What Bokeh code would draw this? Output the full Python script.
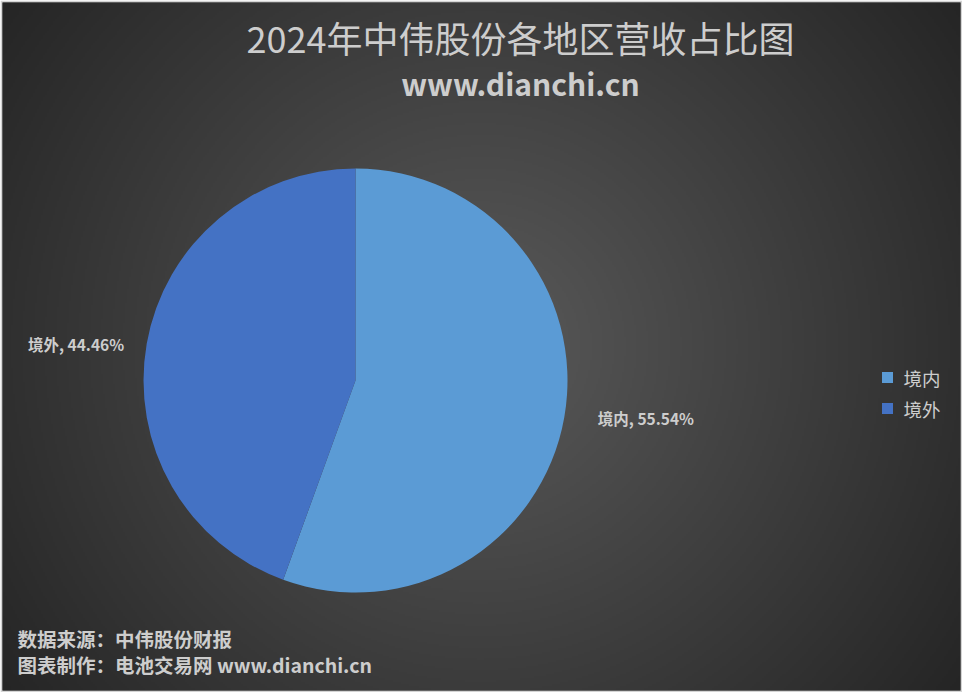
import numpy as np
from bokeh.plotting import figure
from bokeh.models import Range1d, ColumnDataSource, Label
from bokeh.embed import file_html
from bokeh.resources import INLINE
from bokeh.core.properties import value

# ---- data ----
regions = ["境内", "境外"]
shares = [55.54, 44.46]
colors = ["#5B9BD5", "#4472C4"]

title_text = "2024年中伟股份各地区营收占比图"
subtitle_text = "www.dianchi.cn"
footer_lines = ["数据来源：中伟股份财报", "图表制作：电池交易网 www.dianchi.cn"]

W, H = 962, 692
B = 2  # light frame around the chart area
FONT = "Noto Sans CJK SC"
TXT = "#cdcdcd"

p = figure(width=W, height=H, x_range=Range1d(B, W - B), y_range=Range1d(B, H - B),
           output_backend="svg", toolbar_location=None,
           min_border_left=B, min_border_right=B, min_border_top=B, min_border_bottom=B)
p.axis.visible = False
p.grid.visible = False
p.outline_line_color = None
p.background_fill_color = "#3a3a3a"
p.border_fill_color = "#d4d4d4"

# radial background shading, lighter toward the middle
gw, gh = 481, 346
gx = (np.arange(gw) + 0.5) / gw * W
gy = (np.arange(gh) + 0.5) / gh * H
X, Y = np.meshgrid(gx, gy)
d = np.sqrt((X - 480) ** 2 + (Y - (H - 346)) ** 2) / np.hypot(W / 2, H / 2)
t = np.clip(d, 0, 1)[..., None]
inner = np.array([0x5a, 0x5a, 0x5a], dtype=float)
outer = np.array([0x25, 0x25, 0x25], dtype=float)
rgb = inner * (1 - t) + outer * t
img = np.empty((gh, gw), dtype=np.uint32)
view = img.view(dtype=np.uint8).reshape((gh, gw, 4))
view[..., 0] = rgb[..., 0]
view[..., 1] = rgb[..., 1]
view[..., 2] = rgb[..., 2]
view[..., 3] = 255
p.image_rgba(image=[img], x=0, y=0, dw=W, dh=H)

# ---- pie: clockwise from 12 o'clock ----
cx, cy, r = 355, H - 380, 212
frac = np.array(shares) / sum(shares)
cum = np.concatenate([[0], np.cumsum(frac)])
start = np.radians(90 - cum[1:] * 360)
end = np.radians(90 - cum[:-1] * 360)
mid = (start + end) / 2

src = ColumnDataSource(dict(start=start, end=end, color=colors, region=regions))
p.wedge(x=cx, y=cy, radius=r, start_angle="start", end_angle="end",
        fill_color="color", line_color=None, source=src)

# data labels outside the slices, nudged away from the pie edge
lr = r + 28
side = np.sign(np.cos(mid))
lx = cx + lr * np.cos(mid) + np.where(side > 0, 6, 5)
ly = cy + lr * np.sin(mid) + np.where(side > 0, 4, -5)
labels = [f"{g}, {s:.2f}%" for g, s in zip(regions, shares)]
aligns = ["left" if s > 0 else "right" for s in side]
p.text(x=lx, y=ly, text=labels, text_align=aligns, text_baseline="middle",
       text_font=value(FONT), text_font_size="15.5px", text_font_style="bold",
       text_color=TXT)

# ---- legend ----
leg_y = [H - 377, H - 408]
p.rect(x=[887] * len(regions), y=leg_y, width=11, height=11,
       fill_color=colors, line_color=None)
p.text(x=[903] * len(regions), y=leg_y, text=regions, text_baseline="middle",
       text_font=value(FONT), text_font_size="18.5px", text_color=TXT)

# ---- titles ----
p.add_layout(Label(x=520, y=H - 36, text=title_text, text_align="center",
                   text_baseline="middle", text_font=FONT, text_font_size="36px",
                   text_color=TXT))
p.add_layout(Label(x=520, y=H - 82, text=subtitle_text, text_align="center",
                   text_baseline="middle", text_font=FONT, text_font_size="30px",
                   text_font_style="bold", text_color=TXT))

# ---- footer ----
for i, line in enumerate(footer_lines):
    p.add_layout(Label(x=17, y=H - 638 - 26 * i, text=line, text_align="left",
                       text_baseline="middle", text_font=FONT, text_font_size="19.5px",
                       text_font_style="bold", text_color=TXT))

open("out.html", "w").write(file_html(p, INLINE))
